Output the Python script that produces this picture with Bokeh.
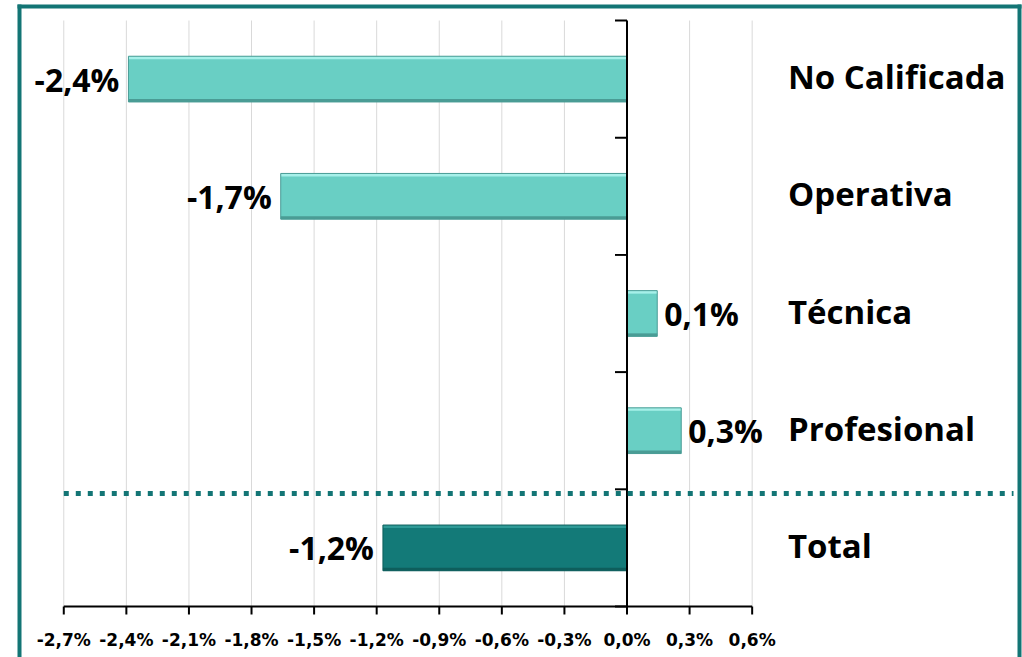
from bokeh.plotting import figure
from bokeh.models import Range1d, BoxAnnotation, ColumnDataSource
from bokeh.core.properties import value
from bokeh.embed import file_html
from bokeh.resources import INLINE
import numpy as np

# ---- data ----
categories = ["Total", "Profesional", "Técnica", "Operativa", "No Calificada"]
values = [-1.17, 0.26, 0.145, -1.66, -2.39]
bar_colors = ["#137a78", "#69cfc4", "#69cfc4", "#69cfc4", "#69cfc4"]
highlight_colors = ["#2f9a97", "#a6f0e9", "#a6f0e9", "#a6f0e9", "#a6f0e9"]
shadow_colors = ["#0e5e5c", "#4a9c95", "#4a9c95", "#4a9c95", "#4a9c95"]
x_ticks = [-2.7, -2.4, -2.1, -1.8, -1.5, -1.2, -0.9, -0.6, -0.3, 0.0, 0.3, 0.6]
x_tick_labels = ["-2,7%", "-2,4%", "-2,1%", "-1,8%", "-1,5%", "-1,2%",
                 "-0,9%", "-0,6%", "-0,3%", "0,0%", "0,3%", "0,6%"]

FONT = "Open Sans"
TEAL = "#137575"

W, H = 1022, 657
PX = 208.6          # pixels per 1 %
ZERO_X = 626.5      # canvas x of 0 %
BAND = 117.2        # pixels per category
AXIS_Y = 606        # canvas y of the x axis
x_start = -ZERO_X / PX
x_end = (W - ZERO_X) / PX
y_bottom = -0.5
y_start = y_bottom - (H - AXIS_Y) / BAND
y_end = y_bottom + AXIS_Y / BAND
y_top = len(categories) - 0.5

def px_x(px):   # canvas x pixel -> data x (layout helper)
    return x_start + px / PX

def px_y(py):   # canvas y pixel (from top) -> data y (layout helper)
    return y_end - py / BAND

BAR_H = 0.39
ypos = list(range(len(categories)))
labels = [("%.1f%%" % v).replace(".", ",") for v in values]
src = ColumnDataSource(dict(
    y=ypos, v=values, color=bar_colors, hl=highlight_colors, sh=shadow_colors,
    label=labels, cat=categories,
    y_top_strip=[y + BAR_H / 2 - 1.5 / BAND for y in ypos],
    y_bot_strip=[y - BAR_H / 2 + 1.5 / BAND for y in ypos],
    y_cat=[y + 2.5 / BAND for y in ypos],
    align=["right" if v < 0 else "left" for v in values],
    xoff=[-9 if v < 0 else 7 for v in values],
))

p = figure(width=W, height=H, output_backend="svg", toolbar_location=None,
           x_range=Range1d(x_start, x_end), y_range=Range1d(y_start, y_end),
           min_border=0)
p.outline_line_color = None
p.background_fill_color = "white"
p.border_fill_color = "white"
p.axis.visible = False
p.grid.visible = False

# vertical grid lines
p.segment(x0=x_ticks, y0=y_bottom, x1=x_ticks, y1=y_top, line_color="#d9d9d9", line_width=1)

# x axis (drawn at the bottom of the bars)
p.segment(x0=x_ticks[0], y0=y_bottom, x1=x_ticks[-1], y1=y_bottom, line_color="black", line_width=2)
p.ray(x=x_ticks, y=y_bottom, length=8, length_units="screen", angle=-np.pi / 2,
      line_color="black", line_width=2)
p.text(x=x_ticks, y=y_bottom - 33.3 / BAND, text=x_tick_labels, text_align="center",
       text_baseline="middle", text_font=value("DejaVu Sans"), text_font_style="bold",
       text_font_size="17px", text_color="black")

# bars with a bevel look
p.hbar(y="y", left=0, right="v", height=BAR_H, source=src, fill_color="color", line_color=None)
p.hbar(y="y_top_strip", left=0, right="v", height=3.0 / BAND, source=src, fill_color="hl", line_color=None)
p.hbar(y="y_bot_strip", left=0, right="v", height=3.0 / BAND, source=src, fill_color="sh", line_color=None)
p.hbar(y="y", left=0, right="v", height=BAR_H, source=src, fill_color=None, line_color="sh", line_width=1)

# y axis line at zero with ticks at band boundaries
bounds = [i - 0.5 for i in range(len(categories) + 1)]
p.segment(x0=0, y0=y_bottom, x1=0, y1=y_top, line_color="black", line_width=2)
p.ray(x=0, y=bounds, length=12, length_units="screen", angle=np.pi, line_color="black", line_width=2)

# separator dotted line
SEP_Y = 0.464
p.segment(x0=x_ticks[0], y0=SEP_Y, x1=px_x(1013), y1=SEP_Y, line_color=TEAL, line_width=5, line_dash="5 7")

# data labels
p.text(x="v", y="y", text="label", source=src, text_align="align", x_offset="xoff",
       text_baseline="middle", text_font=value(FONT), text_font_style="bold",
       text_font_size="32px", text_color="black")

# category labels
p.text(x=px_x(787.5), y="y_cat", text="cat", source=src, text_align="left", text_baseline="middle",
       text_font=value(FONT), text_font_style="bold", text_font_size="33px", text_color="black")

# outer frame (left, right, top strips), data units so orientation is unambiguous
for l, r, t, b in [(17, 21, 4, H + 10), (1017, 1021, 4, H + 10), (17, 1021, 4, 8)]:
    p.add_layout(BoxAnnotation(left=px_x(l), right=px_x(r), top=px_y(t), bottom=px_y(b),
                               fill_color=TEAL, fill_alpha=1, line_color=None, line_alpha=0))

open("out.html", "w").write(file_html(p, INLINE))
